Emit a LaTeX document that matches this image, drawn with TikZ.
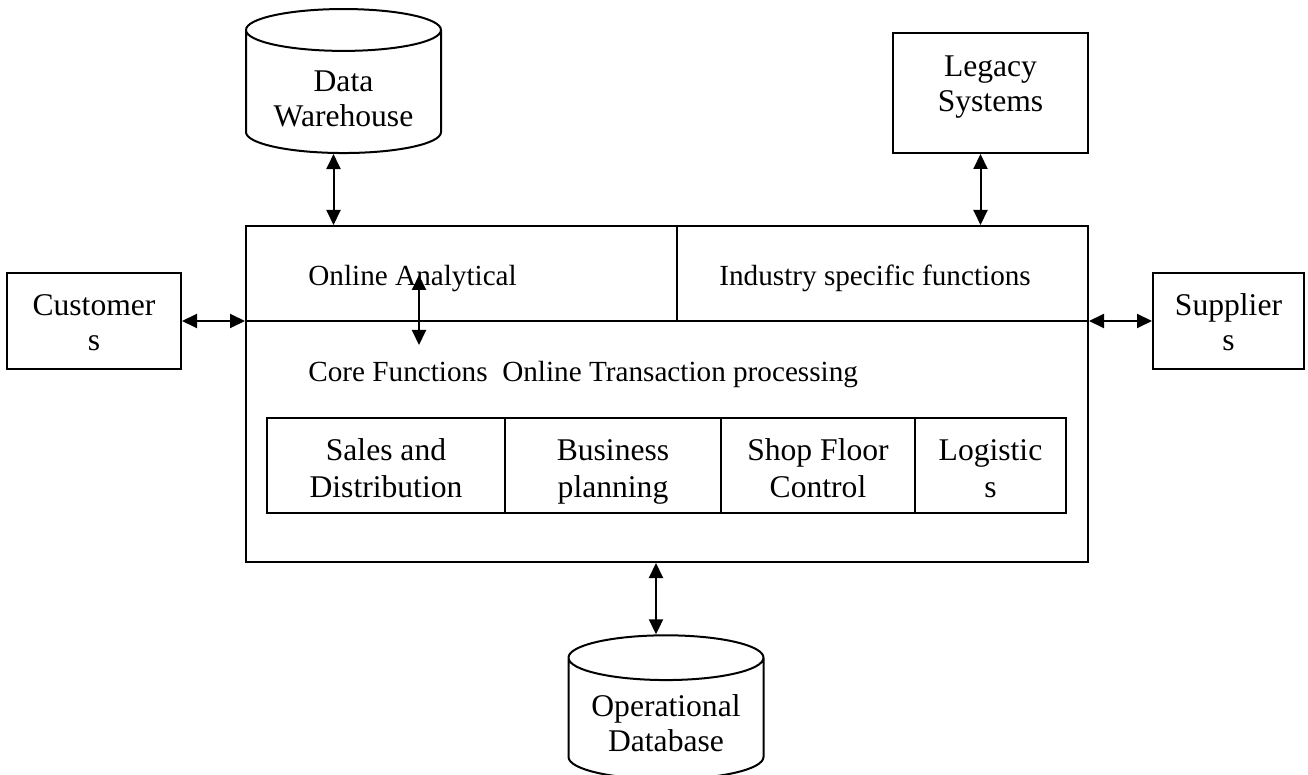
\documentclass[tikz,border=0pt]{standalone}
\usepackage{fontspec}
\setmainfont{Liberation Serif}
\usetikzlibrary{shapes.geometric, arrows.meta, positioning, calc}

\newcommand{\bigtxt}{\fontsize{15.8}{17.5}\selectfont}
\newcommand{\celltxt}{\fontsize{15.8}{18.5}\selectfont}
\newcommand{\smalltxt}{\fontsize{14.6}{16}\selectfont}

\begin{document}
\begin{tikzpicture}[x=0.5pt, y=-0.5pt,
    box/.style={rectangle, draw, line width=1pt, inner sep=0pt,
                align=center, font=\bigtxt, text height=32pt, text depth=2pt},
    cell/.style={box, minimum height=47.5pt, font=\celltxt,
                 text height=33pt, text depth=2pt},
    db/.style={cylinder, shape border rotate=90, draw, line width=1pt,
               aspect=0.3, minimum width=97.5pt, minimum height=72pt,
               inner sep=0pt, align=center, font=\bigtxt,
               text height=33pt, text depth=1pt},
    lbl/.style={inner sep=0pt, font=\smalltxt},
    arr/.style={{Triangle[length=7.5pt, width=7pt]}-{Triangle[length=7.5pt, width=7pt]},
                line width=1pt},
]
\useasboundingbox (0,0) rectangle (1308,775);

% ERP system
\node[box, minimum width=421pt, minimum height=168pt] (erp) at (667,394) {};
\node[cell, minimum width=215.5pt] (olap) at (461.5,274) {};
\node[cell, minimum width=205.5pt] (ind) at (882.5,274) {};
\node[lbl, anchor=base west] (olaptxt) at (308,286) {Online Analytical};
\node[lbl, anchor=base west] (indtxt) at (719,286) {Industry specific functions};
\node[lbl, anchor=base west] (coretxt) at (308,382)
    {Core Functions\ \ Online Transaction processing};

% Core modules
\node[cell, minimum width=119pt] (sales) at (386,466) {Sales and\\Distribution};
\node[cell, minimum width=108pt] (plan) at (613,466) {Business\\planning};
\node[cell, minimum width=97pt] (shop) at (818,466) {Shop Floor\\Control};
\node[cell, minimum width=75.5pt] (logi) at (990.5,466) {Logistic\\s};

% Outside
\node[db, text height=36pt] (dw) at (343.5,92) {Data\\Warehouse};
\node[box, minimum width=97.5pt, minimum height=60pt,
      text height=21pt, text depth=2pt] (legacy) at (990.5,93) {Legacy\\Systems};
\node[box, minimum width=87pt, minimum height=48pt] (cust) at (94,321) {Customer\\s};
\node[box, minimum width=75.5pt, minimum height=48pt] (supp) at (1228.5,321) {Supplier\\s};
\node[db] (opdb) at (666,719) {Operational\\Database};

% Arrows
\coordinate (olapin) at (419,275);
\coordinate (corein) at (419,345);
\draw[arr] (olapin) -- (corein);
\draw[arr] (dw.south) ++(-10,0) coordinate (dwend) -- (dwend |- erp.north);
\draw[arr] (legacy.south) ++(-10,0) coordinate (lgend) -- (lgend |- erp.north);
\draw[arr] (cust.east) -- (cust.east -| erp.west);
\draw[arr] (supp.west) -- (supp.west -| erp.east);
\draw[arr] (opdb.north) ++(-10,0) coordinate (dbend) -- (dbend |- erp.south);

\end{tikzpicture}
\end{document}
